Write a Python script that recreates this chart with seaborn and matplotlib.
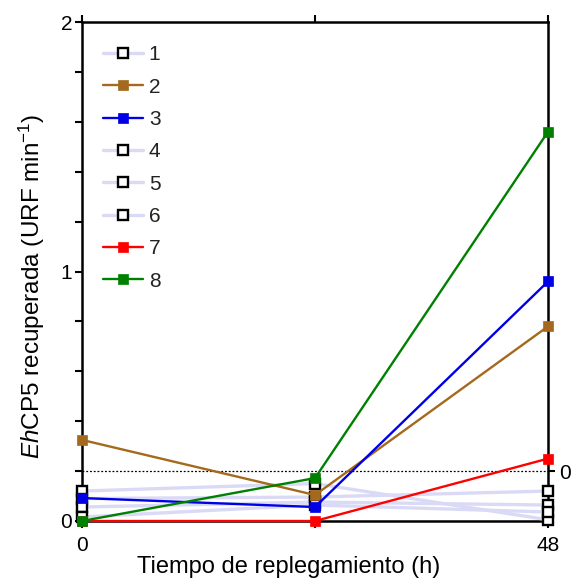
import numpy as np
import pandas as pd
import matplotlib
matplotlib.use("Agg")
import matplotlib.pyplot as plt
import seaborn as sns

# ---- data ----
times = [0, 24, 48]
series_names = ["1", "2", "3", "4", "5", "6", "7", "8"]
s1 = [0.12, 0.15, 0.005]
s2 = [0.325, 0.104, 0.78]
s3 = [0.092, 0.056, 0.96]
s4 = [0.09, 0.096, 0.12]
s5 = [0.056, 0.076, 0.064]
s6 = [0.016, 0.064, 0.036]
s7 = [0.0, 0.0, 0.25]
s8 = [0.0, 0.172, 1.56]
values = [s1, s2, s3, s4, s5, s6, s7, s8]
threshold = 0.2
xtick_vals = [0, 24, 48]
xtick_labels = ["0", "", "48"]

lav = "#dadaf7"
colors = [lav, "#a4691c", "#0000e6", lav, lav, lav, "#ff0000", "#008000"]
open_marker = [True, False, False, True, True, True, False, False]

sns.set_theme(style="white")
plt.rcParams["font.family"] = ["Liberation Sans", "DejaVu Sans"]
plt.rcParams["mathtext.fontset"] = "custom"
plt.rcParams["mathtext.rm"] = "Liberation Sans"
plt.rcParams["mathtext.it"] = "Liberation Sans:italic"

fig = plt.figure(figsize=(5.71, 5.81), dpi=100)
ax = fig.add_axes([82 / 571, 1 - 521 / 581, 466 / 571, 499 / 581])

handles = {}
order = [0, 3, 4, 5, 1, 2, 6, 7]
for i in order:
    df = pd.DataFrame({"t": times, "v": values[i]})
    if open_marker[i]:
        sns.lineplot(data=df, x="t", y="v", ax=ax, color=colors[i], lw=2.4,
                     marker="s", markersize=7.5, mfc="white", mec="black",
                     mew=1.7, label=series_names[i], clip_on=False, zorder=3)
    else:
        sns.lineplot(data=df, x="t", y="v", ax=ax, color=colors[i], lw=1.7,
                     marker="s", markersize=7.5, mfc=colors[i], mec=colors[i],
                     mew=0.5, label=series_names[i], clip_on=False, zorder=4)
    handles[series_names[i]] = ax.lines[-1]

ax.axhline(threshold, color="black", ls=(0, (1.5, 1.5)), lw=0.9, zorder=2.6)

ax.set_xlim(0, 48)
ax.set_ylim(0, 2)
ax.set_xticks(xtick_vals)
ax.set_xticklabels(xtick_labels)
ax.set_yticks([0, 1, 2])
ax.set_yticklabels(["0", "1", "2"])
ax.set_yticks(np.arange(0, 2.01, 0.2), minor=True)

for sp in ax.spines.values():
    sp.set_visible(True)
    sp.set_color("black")
    sp.set_linewidth(1.8)

ax.tick_params(axis="x", which="major", direction="out", length=5, width=1.5,
               labelsize=15, pad=6, bottom=True, top=True, colors="black")
ax.tick_params(axis="y", which="both", direction="out", length=5, width=1.5,
               labelsize=15, pad=2, left=True, colors="black")

ax2 = ax.twinx()
ax2.set_ylim(0, 2)
ax2.set_yticks([threshold])
ax2.set_yticklabels(["0"])
ax2.tick_params(axis="y", direction="out", length=5, width=1.5, labelsize=15,
                pad=3, right=True, colors="black")
for sp in ax2.spines.values():
    sp.set_visible(False)

ax.set_xlabel("Tiempo de replegamiento (h)", fontsize=17, color="black")
ax.xaxis.set_label_coords(0.444, -0.070)
ax.set_ylabel(r"$\it{Eh}$CP5 recuperada (URF min$^{-1}$)", fontsize=17.5,
              color="black")
ax.yaxis.set_label_coords(-0.076, 0.471)

leg = ax.legend([handles[n] for n in series_names], series_names,
                loc="upper left", bbox_to_anchor=(0.045, 0.953),
                frameon=False, fontsize=15, handlelength=1.9,
                handletextpad=0.3, labelspacing=0.64, borderpad=0,
                borderaxespad=0)
for t in leg.get_texts():
    t.set_color("#222222")

fig.savefig("out.png", dpi=100)
